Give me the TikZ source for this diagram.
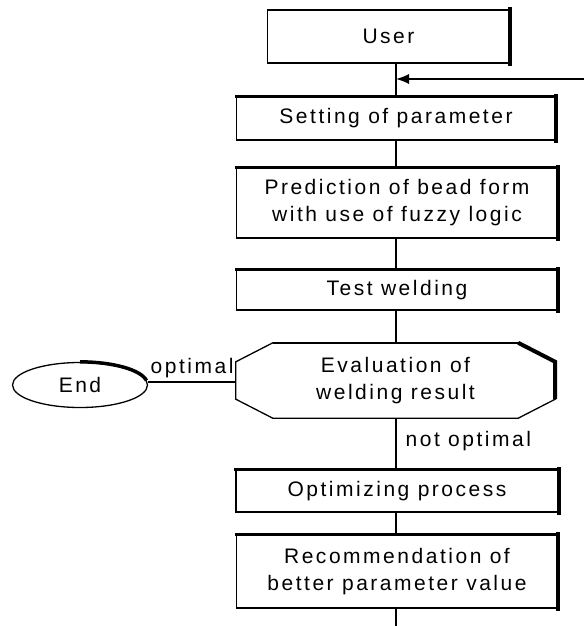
\documentclass[tikz,border=0pt]{standalone}
\usepackage{fontspec}
\newfontfamily\lsfont[LetterSpace=12]{Liberation Sans}
\usetikzlibrary{arrows.meta,shapes.geometric}
\tikzset{
  base/.style={font=\lsfont\fontsize{21}{27}\selectfont, align=center, inner sep=0pt, text=black},
  procbox/.style={base, draw, line width=1.3pt, rectangle},
  ghost/.style={base, rectangle},
  thin/.style={line width=1.3pt},
  heavytop/.style={line width=2.4pt, line cap=rect},
  heavyright/.style={line width=4pt, line cap=rect},
  lbl/.style={base, inner sep=0pt},
}
\begin{document}
\begin{tikzpicture}[x=1pt,y=-1pt]
\useasboundingbox (0,0) rectangle (584,626);
% nodes
\node[procbox, minimum width=242pt, minimum height=53pt] (user) at (388.5,36.5) {User};
\node[procbox, minimum width=319pt, minimum height=43pt] (set) at (396,118.5) {Setting of parameter};
\node[procbox, minimum width=321pt, minimum height=70pt] (pred) at (397,203) {Prediction of bead form\\with use of fuzzy logic};
\node[procbox, minimum width=321pt, minimum height=40pt] (test) at (397,290) {Test welding};
\node[ghost, minimum width=319pt, minimum height=75pt] (eval) at (395.5,380.5) {Evaluation of\\welding result};
\node[procbox, minimum width=322pt, minimum height=42pt] (opt) at (397,491) {Optimizing process};
\node[procbox, minimum width=321pt, minimum height=73pt] (rec) at (397,571.5) {Recommendation of\\better parameter value};
\node[base, draw, ellipse, line width=1.3pt, minimum width=135pt, minimum height=45pt] (end) at (80,385) {End};
% octagon outline of the evaluation node
\draw[thin, line join=miter] ([xshift=37pt]eval.north west) -- ([xshift=-37pt]eval.north east)
  -- ([yshift=-19pt]eval.north east) -- ([yshift=19pt]eval.south east)
  -- ([xshift=-37pt]eval.south east) -- ([xshift=37pt]eval.south west)
  -- ([yshift=19pt]eval.south west) -- ([yshift=-19pt]eval.north west) -- cycle;
\draw[line width=2.2pt] ([xshift=37pt]eval.north west) -- ([xshift=-37pt]eval.north east);
\draw[line width=4pt, line join=miter] ([xshift=-37pt]eval.north east) -- ([yshift=-19pt]eval.north east) -- ([yshift=19pt]eval.south east);
% heavy shadow edges
\draw[heavyright] (user.north east) -- (user.south east);
\foreach \n in {set,pred,test,opt,rec}{
  \draw[heavytop] (\n.north west) -- (\n.north east);
  \draw[heavyright] (\n.north east) -- (\n.south east);
}
% heavy arc on end ellipse
\draw[line width=3.5pt] (end.north) arc[start angle=90, end angle=10, x radius=67.5pt, y radius=22.5pt];
% connectors
\coordinate (fb) at (584,79);
\coordinate (bottom) at (396,626);
\draw[thin] (user.south -| set.north) -- (set.north);
\draw[thin, -{Latex[length=13pt,width=10pt]}] (fb) -- (fb -| set.north);
\draw[thin] (set.south) -- (set.south |- pred.north);
\draw[thin] (pred.south -| set.south) -- (set.south |- test.north);
\draw[thin] (test.south -| set.south) -- (set.south |- eval.north);
\draw[thin] (eval.south -| set.south) -- (set.south |- opt.north)
  node[lbl, pos=0.45, anchor=west, xshift=9pt] (notopt) {not optimal};
\draw[thin] (opt.south -| set.south) -- (set.south |- rec.north);
\draw[thin] (rec.south -| set.south) -- (bottom);
\coordinate (evw) at (236,382);
\draw[thin] (evw) -- (evw -| end.east)
  node[lbl, midway, above, yshift=3pt] (optl) {optimal};
\end{tikzpicture}
\end{document}
